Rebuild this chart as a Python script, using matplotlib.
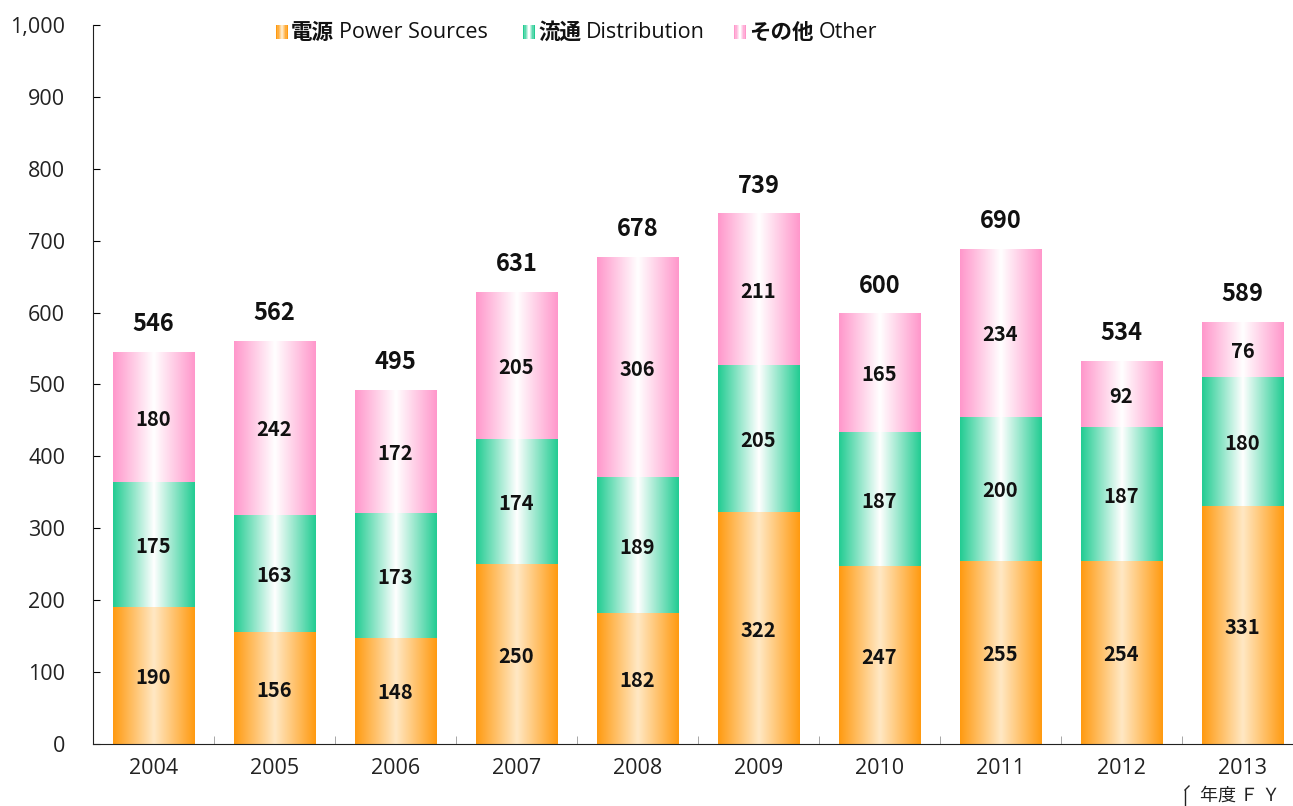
import numpy as np
import matplotlib
matplotlib.use('Agg')
import matplotlib.pyplot as plt
from matplotlib.colors import LinearSegmentedColormap
from matplotlib.patches import Rectangle
from matplotlib.lines import Line2D

years = ['2004', '2005', '2006', '2007', '2008', '2009', '2010', '2011', '2012', '2013']
power = [190, 156, 148, 250, 182, 322, 247, 255, 254, 331]
distribution = [175, 163, 173, 174, 189, 205, 187, 200, 187, 180]
other = [180, 242, 172, 205, 306, 211, 165, 234, 92, 76]
totals = [546, 562, 495, 631, 678, 739, 600, 690, 534, 589]
series_jp = ['電源', '流通', 'その他']
series_en = ['Power Sources', 'Distribution', 'Other']

LATIN = ['Open Sans', 'Noto Sans CJK JP', 'DejaVu Sans']
BOLD = ['Noto Sans CJK JP', 'DejaVu Sans']
plt.rcParams['font.family'] = LATIN

W, H = 1293, 806
cmaps = [
    LinearSegmentedColormap.from_list('o', ['#FF9A10', '#FFE8C4', '#FF9A10']),
    LinearSegmentedColormap.from_list('g', ['#22CC92', '#FFFFFF', '#22CC92']),
    LinearSegmentedColormap.from_list('p', ['#FF97CB', '#FFFFFF', '#FF97CB']),
]

fig = plt.figure(figsize=(12.93, 8.06), dpi=100)
ax = fig.add_axes([93 / W, 62 / H, 1210 / W, 719 / H])

x = np.arange(len(years))
width = 0.67
grad = np.linspace(0, 1, 256).reshape(1, -1)
bottoms = np.zeros(len(years))
for k, vals in enumerate([power, distribution, other]):
    vals = np.array(vals, dtype=float)
    bars = ax.bar(x, vals, width, bottom=bottoms, color='none', edgecolor='none', zorder=2)
    for xi, b, v, rect in zip(x, bottoms, vals, bars):
        im = ax.imshow(grad, cmap=cmaps[k], aspect='auto', zorder=2,
                       extent=(xi - width / 2, xi + width / 2, b, b + v), interpolation='bilinear')
        im.set_clip_path(rect)
        ax.text(xi, b + v / 2 - 3, f'{int(v)}', ha='center', va='center', fontsize=14.5,
                fontweight='bold', family=BOLD, color='#111111', zorder=4)
    bottoms = bottoms + vals

for xi, top, t in zip(x, bottoms, totals):
    ax.text(xi, top + 22, f'{t}', ha='center', va='bottom', fontsize=17,
            fontweight='bold', family=BOLD, color='#111111', zorder=4)

ax.set_xlim(-0.5, 9.5)
ax.set_ylim(0, 1000)
ax.set_yticks(np.arange(0, 1001, 100))
ax.set_yticklabels([f'{v:,}' for v in range(0, 1001, 100)])
ax.set_xticks(x)
ax.set_xticklabels(years)
ax.set_xticks(x[:-1] + 0.5, minor=True)
ax.tick_params(axis='x', which='major', length=0, pad=10, labelsize=15.5, labelcolor='#222222')
ax.tick_params(axis='x', which='minor', length=6, direction='in', color='#999999')
ax.tick_params(axis='y', direction='in', length=5, pad=20, labelsize=15.5, labelcolor='#222222')
for s in ['top', 'right']:
    ax.spines[s].set_visible(False)
ax.spines['left'].set_color('#222222')
ax.spines['bottom'].set_color('#222222')

# legend (manual: bold Japanese + regular English)
icon_x = [276, 523, 734]
ly = 32
fig.canvas.draw()
renderer = fig.canvas.get_renderer()
for k in range(3):
    n = 9
    iw, ih = 12, 14
    for i in range(n):
        fig.add_artist(Rectangle(((icon_x[k] + i * iw / n) / W, 1 - (ly + ih / 2) / H),
                                 (iw / n + 0.3) / W, ih / H, transform=fig.transFigure,
                                 facecolor=cmaps[k](i / (n - 1)), edgecolor='none'))
    tj = fig.text((icon_x[k] + 15) / W, 1 - ly / H, series_jp[k], fontsize=15.5, fontweight='bold',
                  family=BOLD, va='center', ha='left', color='#111111')
    bb = tj.get_window_extent(renderer)
    fig.text((bb.x1 + 5) / W, 1 - ly / H, series_en[k], fontsize=15.5, family=LATIN,
             va='center', ha='left', color='#111111')

fig.text(1200 / W, 1 - 796 / H, '年度 Ｆ Ｙ', fontsize=13, family=['Noto Sans CJK JP'],
         va='center', ha='left', color='#222222')
fig.add_artist(Line2D([1185 / W, 1185 / W], [0, 1 - 790 / H], transform=fig.transFigure,
                      color='#222222', lw=1))
fig.add_artist(Line2D([1185 / W, 1189 / W], [1 - 790 / H, 1 - 786 / H], transform=fig.transFigure,
                      color='#222222', lw=1))

fig.savefig('out.png', dpi=100)
